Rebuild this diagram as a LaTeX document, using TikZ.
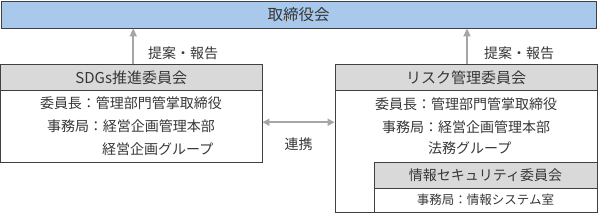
\documentclass[tikz,border=0pt]{standalone}
\usepackage{fontspec}
\newfontfamily\jpfont{Noto Sans CJK JP}
\usepackage{xcolor}
\usetikzlibrary{arrows.meta,positioning,calc}
\definecolor{boardblue}{RGB}{168,200,236}
\definecolor{headgrey}{RGB}{217,217,217}
\definecolor{framegrey}{RGB}{64,64,64}
\definecolor{arrowgrey}{RGB}{166,166,166}
\definecolor{textgrey}{RGB}{55,55,55}

\begin{document}
\begin{tikzpicture}[x=1pt, y=-1pt,
    box/.style n args={2}{rectangle, draw=framegrey, line width=0.9pt, inner sep=0pt,
        minimum width=#1, minimum height=#2, text=textgrey,
        font=\jpfont\fontsize{15}{17}\selectfont},
    line/.style={inner sep=0pt, text=textgrey, font=\jpfont\fontsize{14}{16}\selectfont},
    small/.style={inner sep=0pt, text=textgrey, font=\jpfont\fontsize{12.5}{14}\selectfont},
    report/.style={-{Triangle[length=8pt, width=7pt]}, line width=2pt, draw=arrowgrey},
    link/.style={{Triangle[length=7pt, width=7pt]}-{Triangle[length=7pt, width=7pt]}, line width=2pt, draw=arrowgrey}
]
    \useasboundingbox (0,0) rectangle (598,214);

    % Board of directors
    \node[box={595}{27}, fill=boardblue, font=\jpfont\fontsize{15.5}{18}\selectfont] (board) at (298.5,14.5) {取締役会};

    % Left committee
    \node[box={261.5}{25.5}, fill=headgrey] (sdgs) at (131.25,77.5) {SDGs推進委員会};
    \node[box={261.5}{72}] (sdgsbody) at (131.25,126.25) {};
    \node[line] (sdgschair) at (131,103) {委員長：管理部門管掌取締役};
    \node[line] (sdgssec) at (131,126) {事務局：経営企画管理本部};
    \node[line, anchor=west] (sdgsgrp) at (102,149) {経営企画グループ};

    % Right committee
    \node[box={262}{25.5}, fill=headgrey] (risk) at (466,77.5) {リスク管理委員会};
    \node[box={262}{122}] (riskbody) at (466,151.25) {};
    \node[line] (riskchair) at (466,104) {委員長：管理部門管掌取締役};
    \node[line] (risksec) at (466,127) {事務局：経営企画管理本部};
    \node[line, anchor=west] (riskgrp) at (428,148) {法務グループ};

    % Information security committee inside
    \node[box={223}{26}, fill=headgrey, font=\jpfont\fontsize{14}{16}\selectfont] (isec) at (485.5,175) {情報セキュリティ委員会};
    \node[box={223}{24}] (isecbody) at (485.5,200) {};
    \node[small] (isecsec) at (485.5,200) {事務局：情報システム室};

    % Reporting arrows
    \draw[report] ([xshift=2pt]sdgs.north) -- ([xshift=2pt]sdgs.north |- board.south);
    \draw[report] ([xshift=1pt]risk.north) -- ([xshift=1pt]risk.north |- board.south);
    \node[line, anchor=west] (sdgsreport) at (148,53) {提案・報告};
    \node[line, anchor=west] (riskreport) at (484,53) {提案・報告};

    % Cooperation
    \draw[link] ([yshift=4pt]sdgsbody.east) -- ([yshift=4pt]sdgsbody.east -| riskbody.west)
        node[midway, below=14pt, line] (coop) {連携};
\end{tikzpicture}
\end{document}
